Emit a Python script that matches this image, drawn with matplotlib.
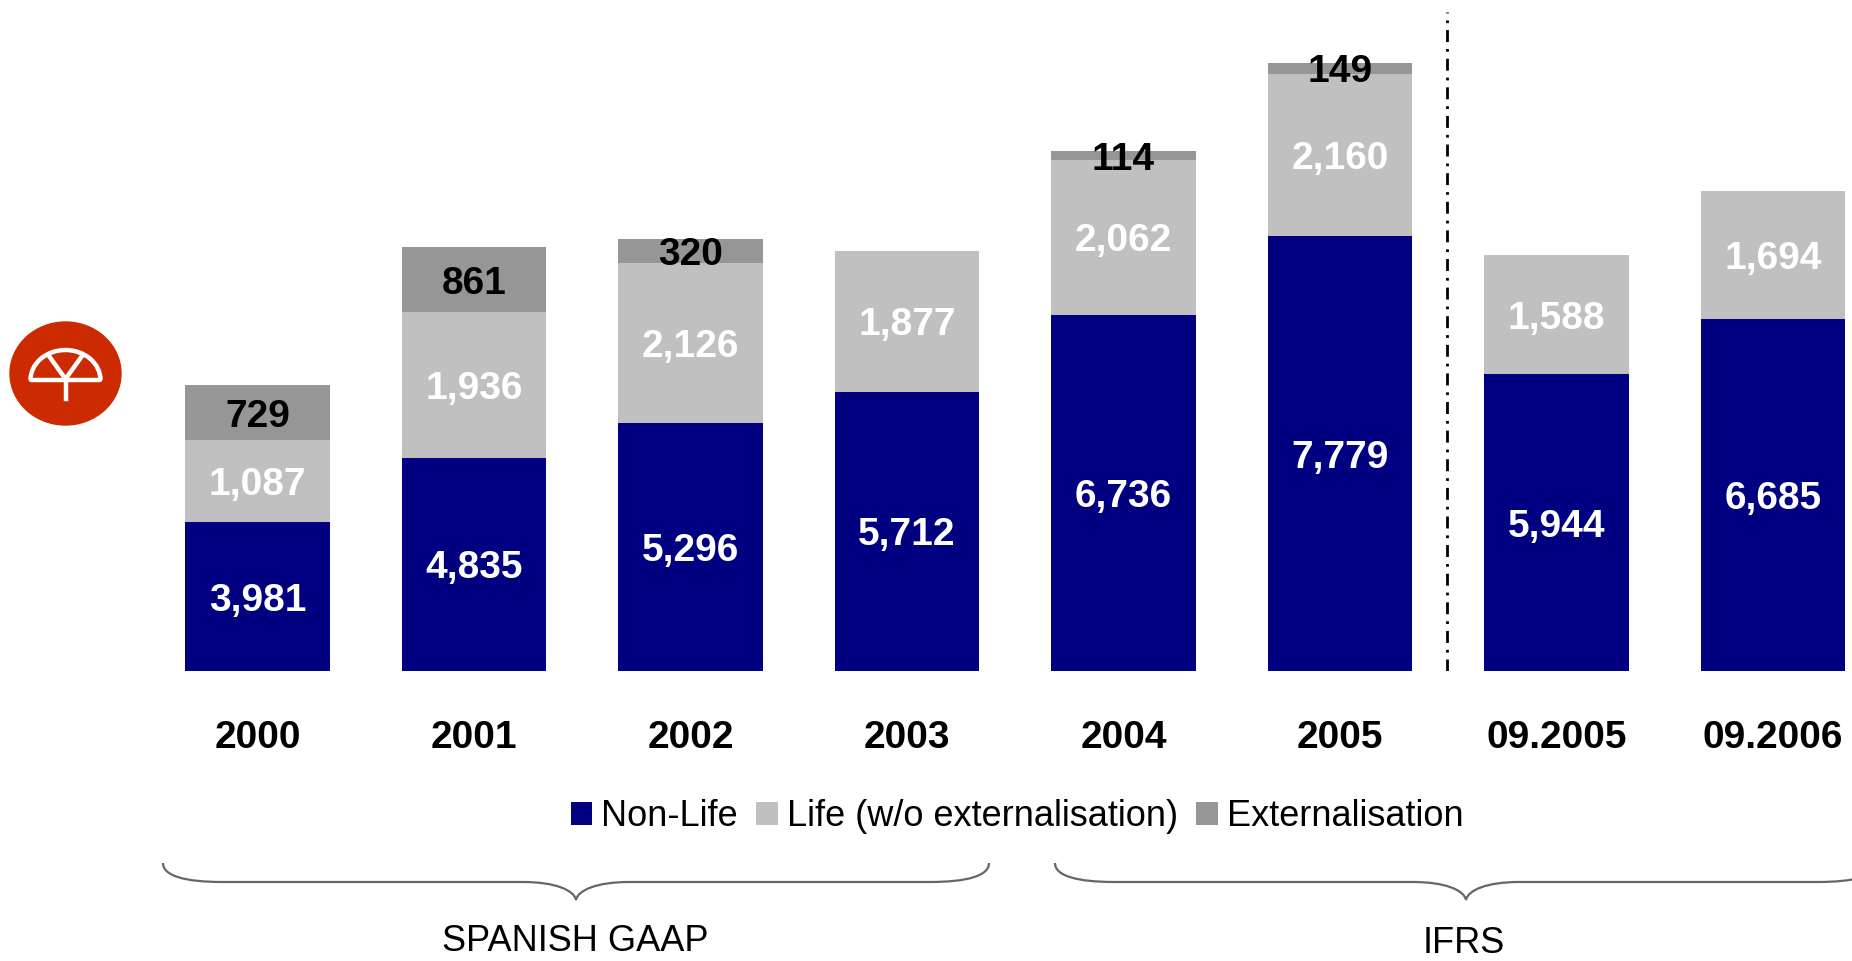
import matplotlib.pyplot as plt
import numpy as np
from matplotlib.path import Path
from matplotlib.patches import PathPatch, Ellipse, Arc

plt.rcParams['font.family'] = ['Liberation Sans', 'DejaVu Sans']

# data
periods = ['2000', '2001', '2002', '2003', '2004', '2005', '09.2005', '09.2006']
non_life = [3981, 4835, 5296, 5712, 6736, 7779, 5944, 6685]
life = [1087, 1936, 2126, 1877, 2062, 2160, 1588, 1694]
extern = [729, 861, 320, 0, 114, 149, 0, 0]
groups = ['SPANISH GAAP', 'IFRS']

navy = '#000080'
light = '#C0C0C0'
dark = '#969696'

W, H = 1852, 961
fig = plt.figure(figsize=(W / 100, H / 100), dpi=100)

base_px = 671      # bar baseline in pixels from top
px_per_unit = 0.0752
y0 = 2000
ax = fig.add_axes([0, (H - base_px) / H, 1, base_px / H])
ax.set_xlim((0 - 257.5) / 216.5, (W - 257.5) / 216.5)
ax.set_ylim(y0, y0 + base_px / px_per_unit)

x = np.arange(len(periods))
nl = np.array(non_life)
lf = np.array(life)
ex = np.array(extern)
bw = 0.667
ax.bar(x, nl, bw, color=navy, label='Non-Life')
ax.bar(x, lf, bw, bottom=nl, color=light, label='Life (w/o externalisation)')
ax.bar(x, ex, bw, bottom=nl + lf, color=dark, label='Externalisation')

lab = dict(ha='center', va='center_baseline', fontsize=28, fontweight='bold')
for i in range(len(x)):
    ax.text(x[i], (y0 + nl[i]) / 2, f'{nl[i]:,}', color='white', **lab)
    ax.text(x[i], nl[i] + lf[i] / 2, f'{lf[i]:,}', color='white', **lab)
    if ex[i] > 0:
        ax.text(x[i], nl[i] + lf[i] + ex[i] / 2, f'{ex[i]:,}', color='black', **lab)

# separator between Spanish GAAP and IFRS
ax.vlines(5.494, y0, y0 + (base_px - 12) / px_per_unit, colors='black',
          linewidth=2, linestyles=[(0, (4.3, 2.5, 1, 2.5))])

ax.set_xticks(x)
ax.set_xticklabels(periods, fontsize=28, fontweight='bold')
ax.tick_params(axis='x', length=0, pad=35)
ax.set_yticks([])
for s in ax.spines.values():
    s.set_visible(False)

fig.legend(loc='center', bbox_to_anchor=(1017 / W, 1 - 817 / H), ncol=3,
           frameon=False, fontsize=26, handlelength=0.6, handleheight=0.6,
           handletextpad=0.25, columnspacing=0.5, borderaxespad=0)

# overlay in pixel coordinates for logo, braces and group labels
ov = fig.add_axes([0, 0, 1, 1])
ov.set_xlim(0, W)
ov.set_ylim(H, 0)
ov.axis('off')


def brace(x0, x1, cx, ytop=863, ymid=882, ycusp=900):
    verts = [(x0, ytop), (x0, ymid - 6), (x0 + 22, ymid), (x0 + 60, ymid),
             (cx - 53, ymid),
             (cx - 21, ymid), (cx - 2, ymid + 8), (cx, ycusp),
             (cx + 2, ymid + 8), (cx + 21, ymid), (cx + 53, ymid),
             (x1 - 60, ymid),
             (x1 - 22, ymid), (x1, ymid - 6), (x1, ytop)]
    codes = [Path.MOVETO, Path.CURVE4, Path.CURVE4, Path.CURVE4,
             Path.LINETO,
             Path.CURVE4, Path.CURVE4, Path.CURVE4,
             Path.CURVE4, Path.CURVE4, Path.CURVE4,
             Path.LINETO,
             Path.CURVE4, Path.CURVE4, Path.CURVE4]
    ov.add_patch(PathPatch(Path(verts, codes), facecolor='none',
                           edgecolor='#666666', linewidth=1.6))


brace(163, 989, 576)
brace(1055, 1877, 1466)
ov.text(575, 951, groups[0], ha='center', va='baseline', fontsize=26)
ov.text(1464, 953, groups[1], ha='center', va='baseline', fontsize=26)

# logo
ov.add_patch(Ellipse((65.5, 373.5), 111, 103, color='#CC2A00'))
ov.add_patch(Arc((65.5, 380), 70, 60, theta1=180, theta2=360,
                 color='white', linewidth=3.2))
ov.plot([31, 100], [380, 380], color='white', linewidth=3.2, solid_capstyle='round')
ov.plot([49, 65.5, 82], [356, 379, 356], color='white', linewidth=3.2)
ov.plot([65.5, 65.5], [379, 399], color='white', linewidth=3.2)

fig.savefig('out.png', dpi=100)
